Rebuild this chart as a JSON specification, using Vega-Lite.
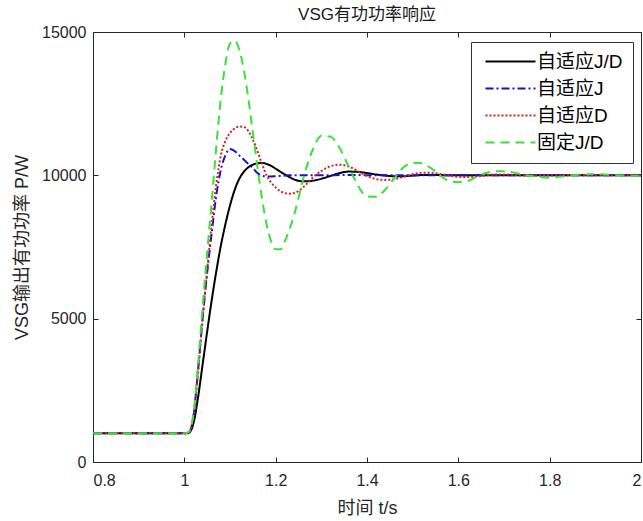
{
  "$schema": "https://vega.github.io/schema/vega-lite/v6.json",
  "width": 548,
  "height": 430,
  "autosize": {"type": "none"},
  "padding": {"left": 93, "top": 32, "right": 2, "bottom": 59},
  "background": "white",
  "title": {"text": "VSG有功功率响应", "fontSize": 17, "font": "Liberation Sans, Noto Sans CJK SC", "fontWeight": "normal", "color": "#1a1a1a", "offset": 0, "anchor": "middle"},
  "config": {
    "view": {"stroke": "#262626", "strokeWidth": 1},
    "axis": {"labelFont": "Liberation Sans", "labelFontSize": 16, "labelColor": "#262626", "titleFont": "Liberation Sans, Noto Sans CJK SC", "titleFontSize": 18, "titleFontWeight": "normal", "titleColor": "#262626", "domainColor": "#262626", "tickColor": "#262626", "grid": false}
  },
  "data": {"values": [
    {"t": 0.8, "a": 1000, "b": 1000, "c": 1000, "d": 1000},
    {"t": 1.0, "a": 1000, "b": 1000, "c": 1000, "d": 1000},
    {"t": 1.01, "a": 1020, "b": 1040, "c": 1040, "d": 1050},
    {"t": 1.02, "a": 1350, "b": 1600, "c": 1600, "d": 1700},
    {"t": 1.03, "a": 2250, "b": 3200, "c": 3100, "d": 3400},
    {"t": 1.04, "a": 3400, "b": 5000, "c": 5000, "d": 5400},
    {"t": 1.05, "a": 4550, "b": 6600, "c": 6700, "d": 7300},
    {"t": 1.06, "a": 5650, "b": 8000, "c": 8300, "d": 9100},
    {"t": 1.07, "a": 6650, "b": 9300, "c": 9700, "d": 11000},
    {"t": 1.08, "a": 7550, "b": 10200, "c": 10700, "d": 12700},
    {"t": 1.09, "a": 8300, "b": 10700, "c": 11200, "d": 13900},
    {"t": 1.10, "a": 8950, "b": 10920, "c": 11480, "d": 14600},
    {"t": 1.11, "a": 9480, "b": 10850, "c": 11630, "d": 14700},
    {"t": 1.12, "a": 9870, "b": 10700, "c": 11700, "d": 14400},
    {"t": 1.13, "a": 10120, "b": 10550, "c": 11690, "d": 13700},
    {"t": 1.14, "a": 10280, "b": 10400, "c": 11550, "d": 12700},
    {"t": 1.15, "a": 10370, "b": 10250, "c": 11250, "d": 11500},
    {"t": 1.16, "a": 10420, "b": 10080, "c": 10850, "d": 10300},
    {"t": 1.17, "a": 10430, "b": 9990, "c": 10400, "d": 9200},
    {"t": 1.18, "a": 10400, "b": 9960, "c": 10000, "d": 8300},
    {"t": 1.19, "a": 10330, "b": 9960, "c": 9750, "d": 7700},
    {"t": 1.20, "a": 10230, "b": 9970, "c": 9580, "d": 7420},
    {"t": 1.21, "a": 10130, "b": 9980, "c": 9450, "d": 7420},
    {"t": 1.22, "a": 10030, "b": 9990, "c": 9380, "d": 7700},
    {"t": 1.23, "a": 9940, "b": 10000, "c": 9360, "d": 8100},
    {"t": 1.24, "a": 9860, "b": 10000, "c": 9380, "d": 8600},
    {"t": 1.25, "a": 9810, "b": 10000, "c": 9450, "d": 9200},
    {"t": 1.26, "a": 9790, "b": 10000, "c": 9580, "d": 9850},
    {"t": 1.27, "a": 9790, "b": 10000, "c": 9740, "d": 10400},
    {"t": 1.28, "a": 9810, "b": 10000, "c": 9900, "d": 10850},
    {"t": 1.29, "a": 9840, "b": 10000, "c": 10040, "d": 11200},
    {"t": 1.30, "a": 9880, "b": 10000, "c": 10150, "d": 11380},
    {"t": 1.32, "a": 9980, "b": 10000, "c": 10320, "d": 11350},
    {"t": 1.34, "a": 10080, "b": 10010, "c": 10370, "d": 10950},
    {"t": 1.36, "a": 10130, "b": 10010, "c": 10310, "d": 10300},
    {"t": 1.38, "a": 10120, "b": 10010, "c": 10150, "d": 9650},
    {"t": 1.40, "a": 10080, "b": 10000, "c": 9980, "d": 9260},
    {"t": 1.42, "a": 10030, "b": 10000, "c": 9870, "d": 9250},
    {"t": 1.44, "a": 9990, "b": 10000, "c": 9840, "d": 9500},
    {"t": 1.46, "a": 9970, "b": 10000, "c": 9870, "d": 9900},
    {"t": 1.48, "a": 9970, "b": 10000, "c": 9950, "d": 10280},
    {"t": 1.50, "a": 9990, "b": 10000, "c": 10040, "d": 10440},
    {"t": 1.52, "a": 10010, "b": 10000, "c": 10090, "d": 10420},
    {"t": 1.54, "a": 10010, "b": 10000, "c": 10090, "d": 10250},
    {"t": 1.56, "a": 10010, "b": 10000, "c": 10050, "d": 10000},
    {"t": 1.58, "a": 10000, "b": 10000, "c": 9990, "d": 9800},
    {"t": 1.60, "a": 10000, "b": 10000, "c": 9950, "d": 9760},
    {"t": 1.62, "a": 10000, "b": 10000, "c": 9940, "d": 9800},
    {"t": 1.64, "a": 10000, "b": 10000, "c": 9960, "d": 9950},
    {"t": 1.66, "a": 10000, "b": 10000, "c": 10000, "d": 10080},
    {"t": 1.68, "a": 10000, "b": 10000, "c": 10030, "d": 10140},
    {"t": 1.70, "a": 10000, "b": 10000, "c": 10030, "d": 10140},
    {"t": 1.75, "a": 10000, "b": 10000, "c": 9990, "d": 10000},
    {"t": 1.80, "a": 10000, "b": 10000, "c": 9990, "d": 9920},
    {"t": 1.85, "a": 10000, "b": 10000, "c": 10010, "d": 10000},
    {"t": 1.90, "a": 10000, "b": 10000, "c": 10000, "d": 10045},
    {"t": 1.95, "a": 10000, "b": 10000, "c": 10000, "d": 10000},
    {"t": 2.00, "a": 10000, "b": 10000, "c": 10000, "d": 9980}
  ]},
  "transform": [{"fold": ["a", "b", "c", "d"], "as": ["s", "p"]}],
  "layer": [
    {
      "mark": {"type": "line", "strokeWidth": 2, "clip": true, "interpolate": "monotone"},
      "encoding": {
        "x": {"field": "t", "type": "quantitative", "scale": {"domain": [0.8, 2.0], "nice": false, "zero": false},
          "axis": {"orient": "bottom", "title": "时间 t/s", "values": [0.8, 1, 1.2, 1.4, 1.6, 1.8, 2], "tickSize": -5, "labelPadding": 15, "titlePadding": 11, "format": "~g"}},
        "y": {"field": "p", "type": "quantitative", "scale": {"domain": [0, 15000], "nice": false},
          "axis": {"orient": "left", "title": "VSG输出有功功率 P/W", "values": [0, 5000, 10000, 15000], "tickSize": -5, "labelPadding": 12, "titlePadding": 10, "format": "d"}},
        "color": {"field": "s", "type": "nominal",
          "scale": {"domain": ["a", "b", "c", "d"], "range": ["#000000", "#1414c8", "#d42020", "#3ae03a"]},
          "legend": {"title": null, "orient": "none", "legendX": 378, "legendY": 10, "labelExpr": "datum.value == 'a' ? '自适应J/D' : datum.value == 'b' ? '自适应J' : datum.value == 'c' ? '自适应D' : '固定J/D'",
            "labelFont": "Liberation Sans, Noto Sans CJK SC", "labelFontSize": 19, "labelColor": "#000", "symbolType": "M-1,0H9", "symbolSize": 100, "symbolStrokeWidth": 2, "strokeColor": "#333", "fillColor": "white", "padding": 10, "rowPadding": 7, "labelOffset": 37}},
        "strokeDash": {"field": "s", "type": "nominal",
          "scale": {"domain": ["a", "b", "c", "d"], "range": [[1, 0], [8, 3, 2, 3], [2, 2], [9, 6]]},
          "legend": {"title": null, "orient": "none", "legendX": 378, "legendY": 10}}
      }
    },
    {
      "mark": {"type": "line", "opacity": 0, "clip": true},
      "encoding": {
        "x": {"field": "t", "type": "quantitative",
          "axis": {"orient": "top", "title": null, "labels": false, "domain": false, "values": [0.8, 1, 1.2, 1.4, 1.6, 1.8, 2], "tickSize": -5}},
        "y": {"field": "p", "type": "quantitative",
          "axis": {"orient": "right", "title": null, "labels": false, "domain": false, "values": [0, 5000, 10000, 15000], "tickSize": -5}},
        "detail": {"field": "s"}
      }
    }
  ],
  "resolve": {"axis": {"x": "independent", "y": "independent"}}
}
